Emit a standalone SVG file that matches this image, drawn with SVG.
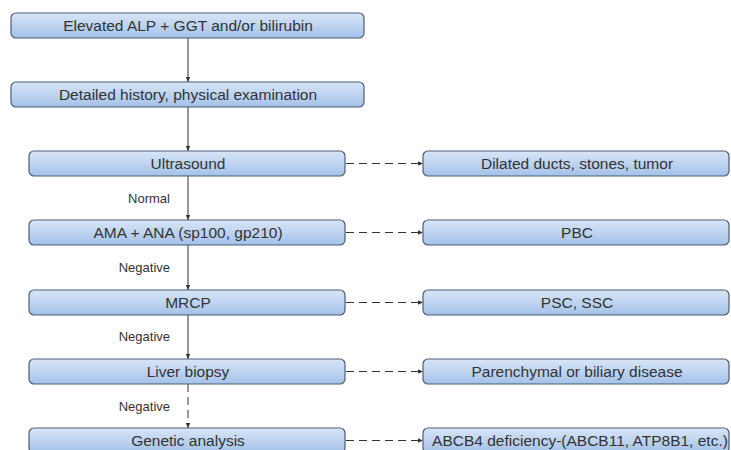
<svg xmlns="http://www.w3.org/2000/svg" width="731" height="450" viewBox="0 0 731 450">
<defs>
<linearGradient id="g" x1="0" y1="0" x2="0" y2="1">
<stop offset="0" stop-color="#d8e6f7"/>
<stop offset="1" stop-color="#a4c1e9"/>
</linearGradient>
<marker id="ah" markerWidth="6" markerHeight="6" refX="5" refY="3" orient="auto" markerUnits="userSpaceOnUse">
<path d="M0,0.8 L5,3 L0,5.2 Z" fill="#333"/>
</marker>
<style>
.box{fill:url(#g);stroke:#4d5d74;stroke-width:1.2}
.t{font-family:"Liberation Sans",Arial,sans-serif;font-size:15.5px;fill:#333;text-anchor:middle}
.l{font-family:"Liberation Sans",Arial,sans-serif;font-size:13px;fill:#333;text-anchor:end}
.c{stroke:#333;stroke-width:1;fill:none;marker-end:url(#ah)}
.d{stroke-dasharray:8,5}
</style>
</defs>
<rect width="731" height="450" fill="#fff"/>
<g id="connectors">
<line class="c" x1="188" y1="38" x2="188" y2="82"/>
<line class="c" x1="188" y1="107" x2="188" y2="151"/>
<line class="c" x1="188" y1="176" x2="188" y2="220"/>
<line class="c" x1="188" y1="245" x2="188" y2="290"/>
<line class="c" x1="188" y1="315" x2="188" y2="359"/>
<line class="c d" x1="188" y1="384" x2="188" y2="428"/>
<line class="c d" x1="346" y1="163.5" x2="423" y2="163.5"/>
<line class="c d" x1="346" y1="232.5" x2="423" y2="232.5"/>
<line class="c d" x1="346" y1="302.5" x2="423" y2="302.5"/>
<line class="c d" x1="346" y1="371.5" x2="423" y2="371.5"/>
<line class="c d" x1="346" y1="440.5" x2="423" y2="440.5"/>
<text class="l" x="170" y="203">Normal</text>
<text class="l" x="170" y="272">Negative</text>
<text class="l" x="170" y="341">Negative</text>
<text class="l" x="170" y="411">Negative</text>
</g>
<g id="n1"><rect class="box" x="11" y="13" width="353" height="25" rx="5"/><text class="t" x="188" y="31">Elevated ALP + GGT and/or bilirubin</text></g>
<g id="n2"><rect class="box" x="11" y="82" width="353" height="25" rx="5"/><text class="t" x="188" y="100">Detailed history, physical examination</text></g>
<g id="n3"><rect class="box" x="29" y="151" width="316" height="25" rx="5"/><text class="t" x="188" y="169">Ultrasound</text></g>
<g id="n4"><rect class="box" x="29" y="220" width="316" height="25" rx="5"/><text class="t" x="188" y="238">AMA + ANA (sp100, gp210)</text></g>
<g id="n5"><rect class="box" x="29" y="290" width="316" height="25" rx="5"/><text class="t" x="188" y="308">MRCP</text></g>
<g id="n6"><rect class="box" x="29" y="359" width="316" height="25" rx="5"/><text class="t" x="188" y="377">Liver biopsy</text></g>
<g id="n7"><rect class="box" x="29" y="428" width="316" height="25" rx="5"/><text class="t" x="188" y="446">Genetic analysis</text></g>
<g id="r1"><rect class="box" x="423" y="151" width="306" height="25" rx="5"/><text class="t" x="577" y="169">Dilated ducts, stones, tumor</text></g>
<g id="r2"><rect class="box" x="423" y="220" width="306" height="25" rx="5"/><text class="t" x="577" y="238">PBC</text></g>
<g id="r3"><rect class="box" x="423" y="290" width="306" height="25" rx="5"/><text class="t" x="577" y="308">PSC, SSC</text></g>
<g id="r4"><rect class="box" x="423" y="359" width="306" height="25" rx="5"/><text class="t" x="577" y="377">Parenchymal or biliary disease</text></g>
<g id="r5"><rect class="box" x="423" y="428" width="306" height="25" rx="5"/><text class="t" x="580" y="446">ABCB4 deficiency-(ABCB11, ATP8B1, etc.)</text></g>
</svg>
